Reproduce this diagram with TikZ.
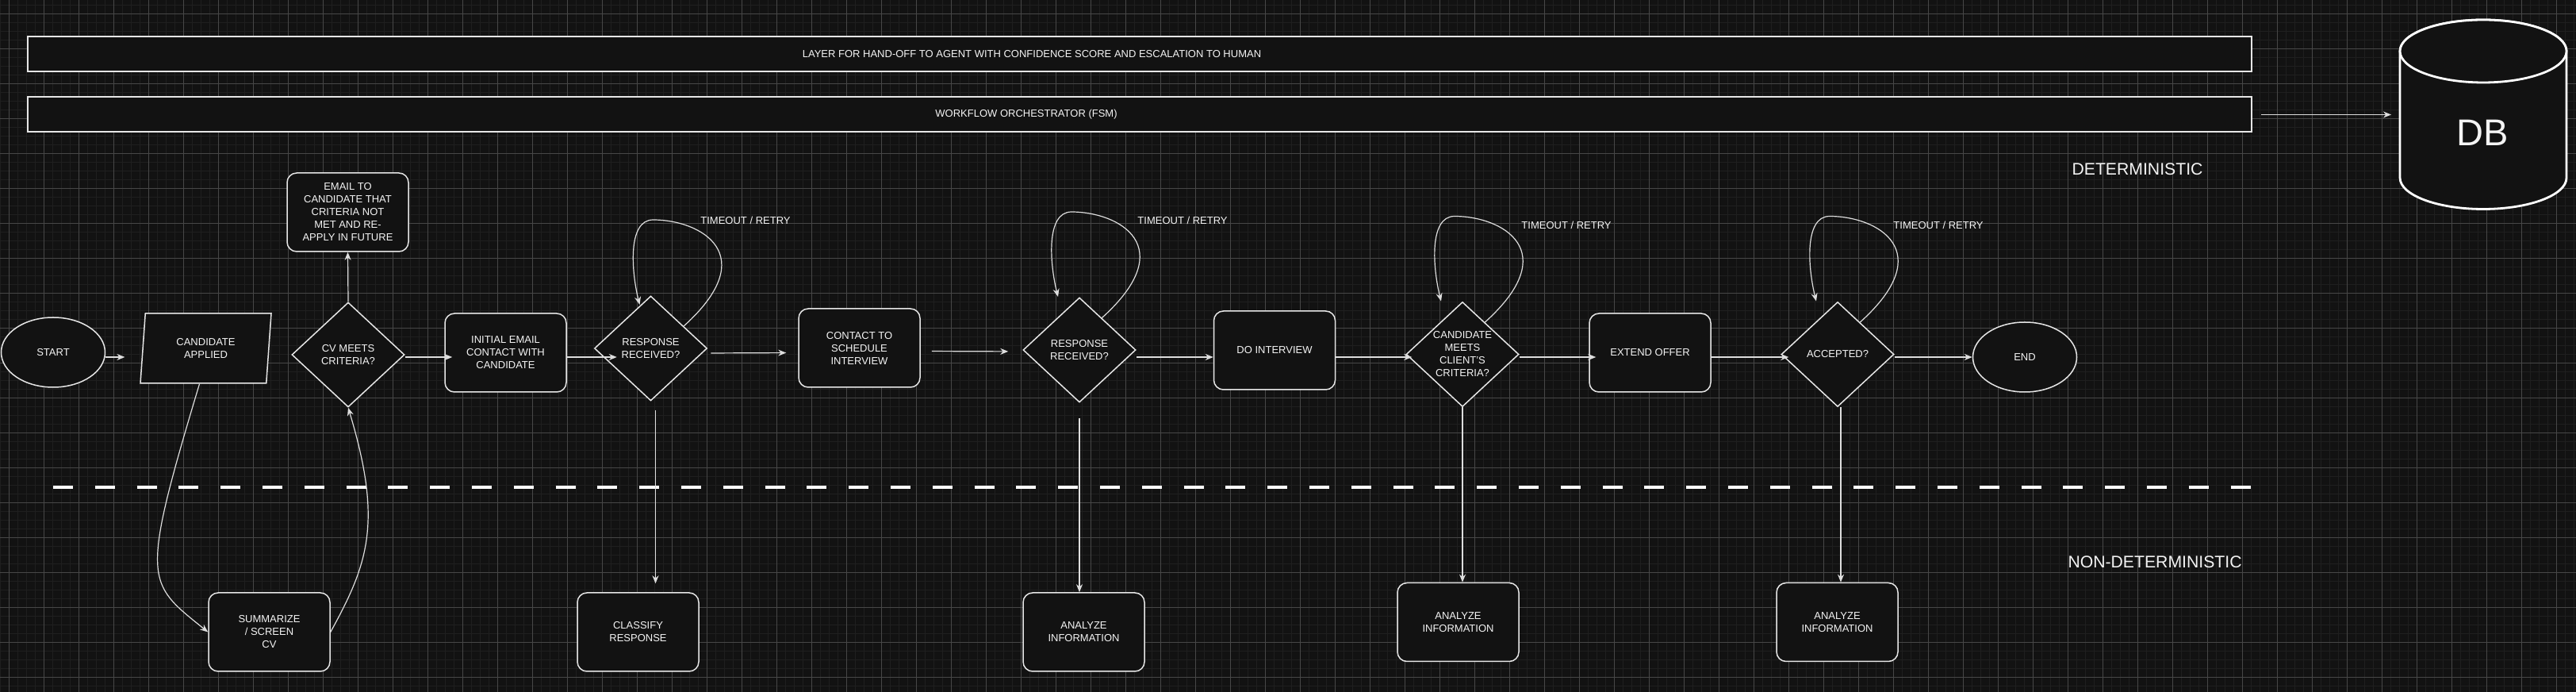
\documentclass[tikz,border=0pt]{standalone}
\usepackage{fontspec}
\setmainfont{Liberation Sans}
\usetikzlibrary{arrows.meta,calc,shapes.geometric}
\definecolor{bgdark}{HTML}{121212}
\definecolor{gridminor}{HTML}{1F1F1F}
\definecolor{gridmajor}{HTML}{474747}
\definecolor{edge}{HTML}{E6E6E6}
\definecolor{wire}{HTML}{DEDEDE}
\definecolor{ink}{HTML}{F4F4F4}
\tikzset{
  minor/.style={draw=gridminor,line width=0.5pt},
  major/.style={draw=gridmajor,line width=0.5pt},
  stepbox/.style={draw=edge,fill=bgdark,line width=0.75pt,rounded corners=6pt,minimum width=76.5pt,minimum height=49.5pt,inner sep=0pt,align=center},
  decision/.style={draw=edge,fill=bgdark,line width=0.75pt,diamond,aspect=1.07,minimum width=71pt,minimum height=66pt,inner sep=0pt,align=center},
  terminal/.style={draw=edge,fill=bgdark,line width=0.75pt,ellipse,minimum width=65.5pt,minimum height=44pt,inner sep=0pt},
  inputbox/.style={draw=edge,fill=bgdark,line width=0.75pt,trapezium,trapezium left angle=76,trapezium right angle=104,trapezium stretches body,minimum width=82.5pt,minimum height=44pt,inner sep=0pt,align=center},
  layer/.style={draw=edge,fill=bgdark,line width=1pt,minimum width=1402pt,minimum height=22pt,inner sep=0pt},
  flow/.style={draw=wire,line width=0.6pt,-{Stealth[length=5pt,width=4pt]}},
  divider/.style={draw=white,line width=2.4pt,dash pattern=on 12.5pt off 13.9pt},
  zone/.style={font=\fontsize{10.6}{12}\selectfont},
  dbline/.style={draw=white,line width=1.4pt,fill=bgdark}
}

\begin{document}
\begin{tikzpicture}[x=50pt,y=50pt,every node/.append style={text=ink,font=\fontsize{6.5}{8}\selectfont}]
  % canvas and grid
  \useasboundingbox[fill=bgdark] (0,0) rectangle (32.48,8.72);
  \foreach \i in {0,...,295} \draw[minor] ({0.003+0.11*\i},0) -- ++(0,8.72);
  \foreach \j in {0,...,78} \draw[minor] (0,{0.077+0.11*\j}) -- ++(32.48,0);
  \foreach \i in {0,...,73} \draw[major] ({0.113+0.44*\i},0) -- ++(0,8.72);
  \foreach \j in {0,...,19} \draw[major] (0,{0.187+0.44*\j}) -- ++(32.48,0);

  % layers on top
  \node[layer] (handoff) at (14.37,8.035) {};
  \node (handofftxt) at (13.01,8.035) {LAYER FOR HAND-OFF TO AGENT WITH CONFIDENCE SCORE AND ESCALATION TO HUMAN};
  \node[layer] (fsm) at (14.37,7.275) {};
  \node (fsmtxt) at (12.94,7.275) {WORKFLOW ORCHESTRATOR (FSM)};

  % database
  \draw[dbline] (30.26,8.075) -- (30.26,6.48) arc[start angle=180,end angle=360,x radius=52.5pt,y radius=19.75pt] -- (32.36,8.075) arc[start angle=0,end angle=180,x radius=52.5pt,y radius=19.75pt];
  \draw[dbline] (31.31,8.075) ellipse[x radius=52.5pt,y radius=19.75pt];
  \node[font=\fontsize{23.5}{28}\selectfont] (db) at (31.3,7.045) {DB};
  \coordinate (dbside) at (30.26,7.28);
  \draw[flow,shorten <=5.5pt,shorten >=5.5pt] (fsm.east) -- (fsm.east -| dbside);

  % zones
  \node[zone] (det) at (26.95,6.59) {DETERMINISTIC};
  \node[zone] (nondet) at (27.17,1.64) {NON-DETERMINISTIC};
  \draw[divider] (0.67,2.58) -- (28.38,2.58);

  % main flow
  \coordinate (row) at (0,4.22);
  \node[terminal] (start) at (0.67,4.28) {START};
  \node[inputbox] (applied) at (2.595,4.33) {CANDIDATE\\APPLIED};
  \node[decision] (cv) at (4.39,4.25) {CV MEETS\\CRITERIA?};
  \node[stepbox] (reject) at (4.385,6.045) {EMAIL TO\\CANDIDATE THAT\\CRITERIA NOT\\MET AND RE-\\APPLY IN FUTURE};
  \node[stepbox] (summ) at (3.395,0.755) {SUMMARIZE\\/ SCREEN\\CV};
  \node[stepbox] (initial) at (6.375,4.275) {INITIAL EMAIL\\CONTACT WITH\\CANDIDATE};
  \node[decision] (resp1) at (8.205,4.33) {RESPONSE\\RECEIVED?};
  \node[stepbox] (classify) at (8.045,0.755) {CLASSIFY\\RESPONSE};
  \node[stepbox] (contact) at (10.835,4.335) {CONTACT TO\\SCHEDULE\\INTERVIEW};
  \node[decision] (resp2) at (13.61,4.31) {RESPONSE\\RECEIVED?};
  \node[stepbox] (analyze1) at (13.665,0.755) {ANALYZE\\INFORMATION};
  \node[stepbox] (interview) at (16.07,4.305) {DO INTERVIEW};
  \node[decision] (meets) at (18.44,4.255) {CANDIDATE\\MEETS\\CLIENT'S\\CRITERIA?};
  \node[stepbox] (analyze2) at (18.385,0.88) {ANALYZE\\INFORMATION};
  \node[stepbox] (offer) at (20.805,4.275) {EXTEND OFFER};
  \node[decision] (accepted) at (23.17,4.255) {ACCEPTED?};
  \node[stepbox] (analyze3) at (23.165,0.88) {ANALYZE\\INFORMATION};
  \node[terminal] (end) at (25.53,4.22) {END};

  \draw[flow,shorten >=11pt] (start.east |- row) -- (applied.west |- row);
  \draw[flow] ($(applied.south)+(-0.08,0)$) .. controls +(-0.755,-2.51) and +(-0.78,0.63) .. (summ.west);
  \draw[flow] (summ.east) .. controls +(0.48,0.87) and +(0.435,-1.44) .. (cv.south);
  \draw[flow] (cv.north) -- (reject.south);
  \draw[flow,shorten >=-5pt] (cv.east |- row) -- (initial.west |- row);
  \draw[flow] (initial.east |- row) -- ($(resp1.west |- row)+(0.29,0)$);
  \draw[flow,shorten <=2pt,shorten >=7.5pt] ($(resp1.east)+(0,-0.06)$) -- ($(contact.west)+(0,-0.06)$);
  \draw[flow,shorten <=7pt,shorten >=9pt] ($(contact.east)+(0,-0.04)$) -- ($(resp2.west)+(0,-0.02)$);
  \draw[flow] (resp2.east |- row) -- (interview.west |- row);
  \draw[flow,shorten >=-4pt] (interview.east |- row) -- (meets.west |- row);
  \draw[flow,shorten >=-4.5pt] (meets.east |- row) -- (offer.west |- row);
  \draw[flow,shorten >=-5pt] (offer.east |- row) -- (accepted.west |- row);
  \draw[flow] (accepted.east |- row) -- (end.west |- row);

  % down to the agents
  \draw[flow,shorten <=5.5pt,shorten >=5.5pt] ($(resp1.south)+(0.06,0)$) coordinate (r1drop) -- (r1drop |- classify.north);
  \draw[flow,shorten <=9.5pt] (resp2.south) -- (resp2.south |- analyze1.north);
  \draw[flow] (meets.south) -- (meets.south |- analyze2.north);
  \draw[flow] ($(accepted.south)+(0.04,0)$) coordinate (accdrop) -- (accdrop |- analyze3.north);

  % timeout / retry loops
  \draw[flow] (resp1.34) .. controls +(1.0,0.9) and +(0.6,0) .. ($(resp1)+(0.03,1.62)$) .. controls +(-0.33,0) and +(-0.10,0.40) .. ($(resp1)+(-0.14,0.55)$);
  \node (retry1) at ($(resp1)+(1.195,1.61)$) {TIMEOUT / RETRY};
  \draw[flow] (resp2.55) .. controls +(1.0,0.9) and +(0.6,0) .. ($(resp2)+(-0.10,1.74)$) .. controls +(-0.33,0) and +(-0.10,0.40) .. ($(resp2)+(-0.27,0.67)$);
  \node (retry2) at ($(resp2)+(1.30,1.63)$) {TIMEOUT / RETRY};
  \draw[flow] (meets.55) .. controls +(1.0,0.9) and +(0.6,0) .. ($(meets)+(-0.10,1.74)$) .. controls +(-0.33,0) and +(-0.10,0.40) .. ($(meets)+(-0.27,0.67)$);
  \node (retry3) at ($(meets)+(1.31,1.625)$) {TIMEOUT / RETRY};
  \draw[flow] (accepted.55) .. controls +(1.0,0.9) and +(0.6,0) .. ($(accepted)+(-0.10,1.74)$) .. controls +(-0.33,0) and +(-0.10,0.40) .. ($(accepted)+(-0.27,0.67)$);
  \node (retry4) at ($(accepted)+(1.27,1.625)$) {TIMEOUT / RETRY};
\end{tikzpicture}
\end{document}
